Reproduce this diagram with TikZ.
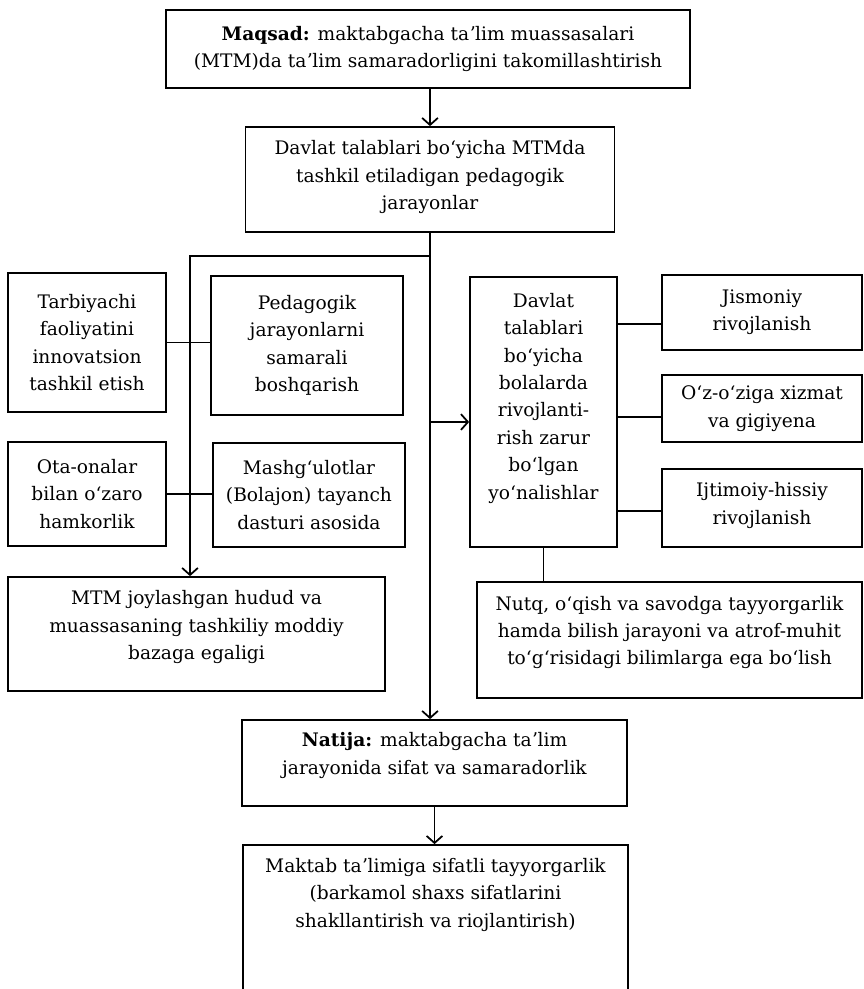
\documentclass[tikz,border=0pt]{standalone}
\usepackage{fontspec}
\setmainfont{DejaVu Serif}
\usepackage{tikz}
\usetikzlibrary{arrows,arrows.meta,positioning}

\begin{document}
\begin{tikzpicture}[x=0.02cm, y=-0.02cm, line width=1pt, >={Straight Barb[length=4pt,width=9pt]},
blok/.style={draw, rectangle, align=center, inner sep=2pt, font=\fontsize{10.6}{15.6}\selectfont}]
\useasboundingbox (0,0) rectangle (863,989);
\node (goal) [blok, minimum width=10.48cm, minimum height=1.56cm] at (428,49) {\textbf{Maqsad:} maktabgacha taʼlim muassasalari\\(MTM)da taʼlim samaradorligini takomillashtirish};
\node (proc) [blok, minimum width=7.38cm, minimum height=2.1cm, text depth=5pt] at (430,179.5) {Davlat talablari boʻyicha MTMda\\tashkil etiladigan pedagogik\\jarayonlar};
\node (tarb) [blok, minimum width=3.16cm, minimum height=2.78cm] at (87,342.5) {Tarbiyachi\\faoliyatini\\innovatsion\\tashkil etish};
\node (boshq) [blok, minimum width=3.84cm, minimum height=2.78cm] at (307,345.5) {Pedagogik\\jarayonlarni\\samarali\\boshqarish};
\node (ota) [blok, minimum width=3.16cm, minimum height=2.08cm] at (87,494) {Ota-onalar\\bilan oʻzaro\\hamkorlik};
\node (mashg) [blok, minimum width=3.84cm, minimum height=2.08cm] at (309,495) {Mashgʻulotlar\\(Bolajon) tayanch\\dasturi asosida};
\node (baza) [blok, minimum width=7.54cm, minimum height=2.28cm, text depth=10pt] at (196.5,634) {MTM joylashgan hudud va\\muassasaning tashkiliy moddiy\\bazaga egaligi};
\node (yonal) [blok, minimum width=2.94cm, minimum height=5.4cm, text depth=18pt] at (543.5,412) {Davlat\\talablari\\boʻyicha\\bolalarda\\rivojlanti-\\rish zarur\\boʻlgan\\yoʻnalishlar};
\node (jism) [blok, minimum width=4cm, minimum height=1.5cm] at (762,312.5) {Jismoniy\\rivojlanish};
\node (gigiy) [blok, minimum width=4cm, minimum height=1.34cm] at (762,408.5) {Oʻz-oʻziga xizmat\\va gigiyena};
\node (ijtim) [blok, minimum width=4cm, minimum height=1.56cm, text depth=5pt] at (762,508) {Ijtimoiy-hissiy\\rivojlanish};
\node (nutq) [blok, minimum width=7.7cm, minimum height=2.32cm, text depth=11pt] at (669.5,640) {Nutq, oʻqish va savodga tayyorgarlik\\hamda bilish jarayoni va atrof-muhit\\toʻgʻrisidagi bilimlarga ega boʻlish};
\node (natija) [blok, minimum width=7.7cm, minimum height=1.72cm, text depth=11pt] at (434.5,763) {\textbf{Natija:} maktabgacha taʼlim\\jarayonida sifat va samaradorlik};
\node (maktab) [blok, minimum width=7.7cm, minimum height=3cm, text depth=31pt] at (435.5,920) {Maktab taʼlimiga sifatli tayyorgarlik\\(barkamol shaxs sifatlarini\\shakllantirish va riojlantirish)};
\coordinate (split) at (430,256);
\coordinate (lbus) at (190,256);
\coordinate (rbus) at (430,422);
\coordinate (jl) at ([yshift=-0.23cm]jism.west);
\coordinate (gl) at ([yshift=-0.17cm]gigiy.west);
\coordinate (il) at ([yshift=-0.06cm]ijtim.west);
\draw[->] (goal.south -| proc.north) -- (proc.north);
\draw[->] (proc.south) -- (proc.south |- natija.north);
\draw[->] (split) -- (lbus) -- (lbus |- baza.north);
\draw[->] (rbus) -- (rbus -| yonal.west);
\draw (tarb.east) -- (tarb.east -| boshq.west);
\draw (ota.east) -- (ota.east -| mashg.west);
\draw (jl -| yonal.east) -- (jl);
\draw (gl -| yonal.east) -- (gl);
\draw (il -| yonal.east) -- (il);
\draw (yonal.south) -- (yonal.south |- nutq.north);
\draw[->] (natija.south) -- (natija.south |- maktab.north);
\end{tikzpicture}
\end{document}
